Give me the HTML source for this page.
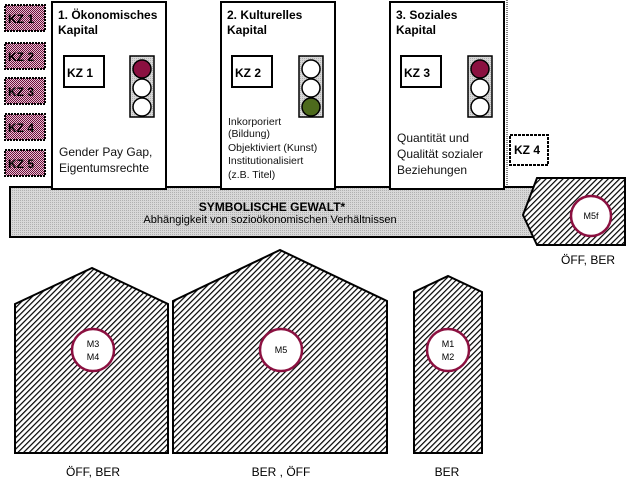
<!DOCTYPE html>
<html><head><meta charset="utf-8"><style>
html,body{margin:0;padding:0;background:#fff;width:631px;height:485px;overflow:hidden}
text{font-family:"Liberation Sans",sans-serif}
</style></head><body>
<svg width="631" height="485" viewBox="0 0 631 485" xmlns="http://www.w3.org/2000/svg">
<defs>
<pattern id="hatch" width="4" height="4" patternUnits="userSpaceOnUse" patternTransform="rotate(45)">
<rect width="4" height="4" fill="#fff"/><rect width="1.2" height="4" fill="#000"/></pattern>
<pattern id="check" width="2" height="2" patternUnits="userSpaceOnUse">
<rect width="2" height="2" fill="#e6c4d3"/><rect width="1" height="1" fill="#6e0c3a"/><rect x="1" y="1" width="1" height="1" fill="#6e0c3a"/></pattern>
<pattern id="gray" width="2" height="2" patternUnits="userSpaceOnUse">
<rect width="2" height="2" fill="#d8d8d8"/><rect width="1" height="1" fill="#b0b0b0"/></pattern>
</defs>
<g stroke="#000" stroke-width="2" stroke-dasharray="2,1">
<rect x="5" y="5" width="40" height="26" fill="url(#check)"/>
<rect x="5" y="43" width="40" height="26" fill="url(#check)"/>
<rect x="5" y="78" width="40" height="26" fill="url(#check)"/>
<rect x="5" y="114" width="40" height="26" fill="url(#check)"/>
<rect x="5" y="150" width="40" height="26" fill="url(#check)"/>
</g>
<g font-size="12" font-weight="bold" fill="#000">
<text x="8" y="23">KZ 1</text><text x="8" y="61">KZ 2</text><text x="8" y="96">KZ 3</text><text x="8" y="132">KZ 4</text><text x="8" y="168">KZ 5</text>
</g>
<rect x="10" y="187" width="525" height="50" fill="url(#gray)" stroke="#000" stroke-width="2"/>
<text x="272" y="211" font-size="12" font-weight="bold" text-anchor="middle">SYMBOLISCHE GEWALT*</text>
<text x="270" y="223" font-size="11" text-anchor="middle">Abhängigkeit von sozioökonomischen Verhältnissen</text>
<g fill="#fff" stroke="#000" stroke-width="2">
<rect x="52" y="2" width="114" height="187"/>
<rect x="221" y="2" width="114" height="187"/>
<rect x="390" y="2" width="114" height="187"/>
<rect x="64" y="56" width="40" height="31"/>
<rect x="232" y="56" width="40" height="31"/>
<rect x="401" y="56" width="40" height="31"/>
</g>
<line x1="507" y1="0" x2="507" y2="186" stroke="#000" stroke-dasharray="1,1"/>
<g font-size="12" font-weight="bold">
<text x="58" y="19">1. Ökonomisches</text><text x="58" y="34">Kapital</text>
<text x="227" y="19">2. Kulturelles</text><text x="227" y="34">Kapital</text>
<text x="396" y="19">3. Soziales</text><text x="396" y="34">Kapital</text>
<text x="67" y="77">KZ 1</text><text x="235" y="77">KZ 2</text><text x="404" y="77">KZ 3</text>
</g>
<g stroke="#000" stroke-width="1.5">
<rect x="130" y="56" width="24" height="61" fill="url(#gray)"/>
<circle cx="142" cy="69" r="9" fill="#8b1040"/><circle cx="142" cy="88" r="9" fill="#fff"/><circle cx="142" cy="107" r="9" fill="#fff"/>
<rect x="299" y="56" width="24" height="61" fill="url(#gray)"/>
<circle cx="311" cy="69" r="9" fill="#fff"/><circle cx="311" cy="88" r="9" fill="#fff"/><circle cx="311" cy="107" r="9" fill="#4d6a1c"/>
<rect x="468" y="56" width="24" height="61" fill="url(#gray)"/>
<circle cx="480" cy="69" r="9" fill="#8b1040"/><circle cx="480" cy="88" r="9" fill="#fff"/><circle cx="480" cy="107" r="9" fill="#fff"/>
</g>
<g font-size="12" fill="#111">
<text x="59" y="156">Gender Pay Gap,</text><text x="59" y="172">Eigentumsrechte</text>
<text x="397" y="142">Quantität und</text><text x="397" y="158">Qualität sozialer</text><text x="397" y="174">Beziehungen</text>
</g>
<g font-size="10.5" fill="#111">
<text x="228" y="125">Inkorporiert</text><text x="228" y="137">(Bildung)</text><text x="228" y="151">Objektiviert (Kunst)</text><text x="228" y="164">Institutionalisiert</text><text x="228" y="178">(z.B. Titel)</text>
</g>
<rect x="510" y="135" width="38" height="30" fill="#fff" stroke="#000" stroke-width="2" stroke-dasharray="3,1"/>
<text x="514" y="154" font-size="12" font-weight="bold">KZ 4</text>
<polygon points="537,178 625,178 625,245 537,245 523,215" fill="url(#hatch)" stroke="#000" stroke-width="2"/>
<circle cx="591" cy="216" r="20" fill="#fff" stroke="#8b1040" stroke-width="2.5"/>
<text x="591" y="219" font-size="9" text-anchor="middle">M5f</text>
<text x="588" y="264" font-size="12" text-anchor="middle">ÖFF, BER</text>
<g fill="url(#hatch)" stroke="#000" stroke-width="2">
<polygon points="15,304 92,268 168,304 168,453 15,453"/>
<polygon points="173,301 280,250 387,301 387,453 173,453"/>
<polygon points="414,292 448,276 482,292 482,453 414,453"/>
</g>
<g fill="#fff" stroke="#8b1040" stroke-width="2.5">
<circle cx="93" cy="350" r="21"/><circle cx="281" cy="350" r="21"/><circle cx="448" cy="350" r="21"/>
</g>
<g font-size="9" text-anchor="middle">
<text x="93" y="347">M3</text><text x="93" y="360">M4</text>
<text x="281" y="353">M5</text>
<text x="448" y="347">M1</text><text x="448" y="360">M2</text>
</g>
<g font-size="12" text-anchor="middle">
<text x="93" y="476">ÖFF, BER</text><text x="281" y="476">BER , ÖFF</text><text x="447" y="476">BER</text>
</g>
</svg>
</body></html>
